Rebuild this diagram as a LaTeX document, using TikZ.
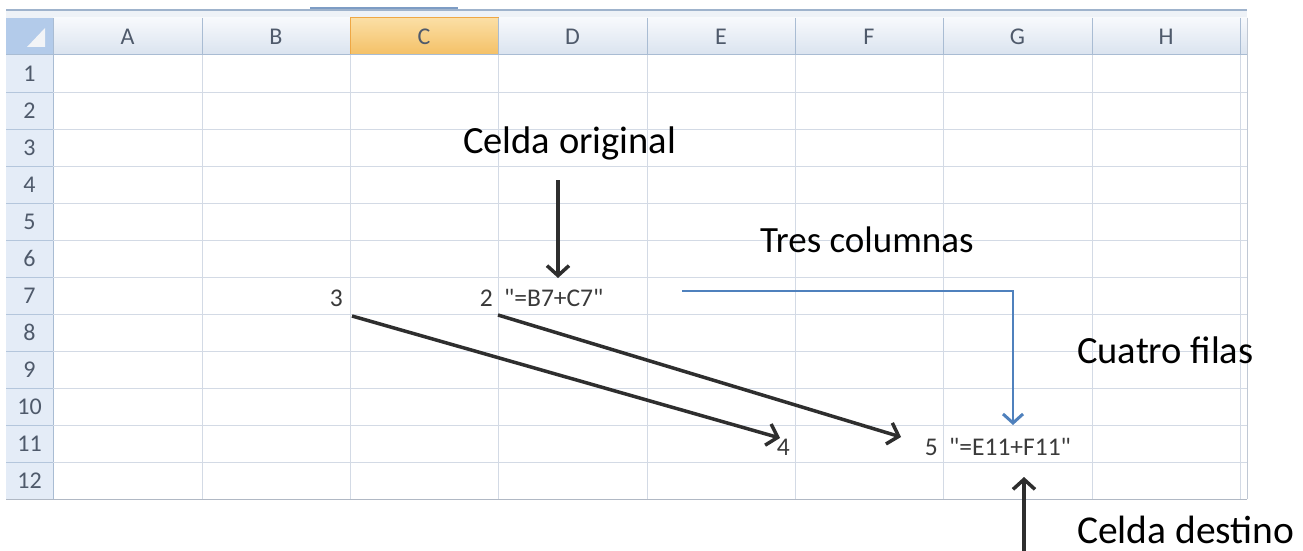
\documentclass[tikz,border=0pt]{standalone}
\usepackage{fontspec}
\setmainfont{Carlito}
\usetikzlibrary{arrows.meta}
\definecolor{gridc}{HTML}{D3DAE5}
\definecolor{hdrtop}{HTML}{F7F9FC}
\definecolor{hdrbot}{HTML}{DAE3EF}
\definecolor{hdrsep}{HTML}{A9BCD3}
\definecolor{rowbg}{HTML}{E4ECF7}
\definecolor{rowsep}{HTML}{B4C6DC}
\definecolor{seltop}{HTML}{FBDFA5}
\definecolor{selbot}{HTML}{F4C066}
\definecolor{selbrd}{HTML}{EFA744}
\definecolor{hdrtxt}{HTML}{4F5A6B}
\definecolor{celltxt}{HTML}{3A3A3A}
\definecolor{blueln}{HTML}{4F81BD}
\definecolor{topbar}{HTML}{9FB3CC}
\definecolor{topbardk}{HTML}{7D9CC4}
\definecolor{stripc}{HTML}{EEF2F7}
\definecolor{cornerc}{HTML}{B3CBEA}
\definecolor{trianglec}{HTML}{F2F4F7}
\definecolor{edgec}{HTML}{C0C8D4}
\definecolor{bottomc}{HTML}{B0B8C4}
\definecolor{arrowc}{HTML}{2E2E2E}
\newcommand{\qd}{\textquotedbl}
\tikzset{
  hdrtext/.style={font=\fontsize{24}{26}\selectfont, text=hdrtxt, inner sep=0pt},
  celltext/.style={font=\fontsize{25.5}{27}\selectfont, text=celltxt, inner sep=0pt},
  lbl/.style={text=black, inner sep=0pt, anchor=base west},
  blkarrow/.style={draw=arrowc, line width=3.5pt, -{Straight Barb[length=10pt,width=22pt]}},
  bluearrow/.style={draw=blueln, line width=1.2pt, -{Straight Barb[length=9pt,width=20pt,line width=3pt]}},
}
\begin{document}
\begin{tikzpicture}[x=1pt,y=-1pt]
\useasboundingbox (0,0) rectangle (1303,551);
\fill[white] (0,0) rectangle (1303,551);
% top bar
\fill[stripc] (6,10) rectangle (1247,18);
\draw[topbar, line width=1.5pt] (6,10) -- (1247,10);
\draw[topbardk, line width=2pt] (310,8.5) -- (458,8.5);
% header row cells
\foreach \a/\b in {53/202,202/350,350/498,498/647,647/795,795/943,943/1092,1092/1240,1240/1247}{
  \shade[top color=hdrtop, bottom color=hdrbot] (\a,18) rectangle (\b,55);
}
\shade[top color=seltop, bottom color=selbot] (350,18) rectangle (498,55);
\draw[selbrd, line width=1pt] (350,18) rectangle (498,55);
\foreach \x in {53,202,498,647,795,943,1092,1240,1247}{
  \draw[hdrsep, line width=1pt] (\x,18) -- (\x,55);
}
\foreach \a/\b/\l in {53/202/A,202/350/B,350/498/C,498/647/D,647/795/E,795/943/F,943/1092/G,1092/1240/H}{
  \node[hdrtext] (h\l) at ({(\a+\b)/2},37) {\l};
}
% corner
\fill[cornerc] (6,18) rectangle (53,55);
\fill[trianglec] (27,47) -- (45,47) -- (45,28) -- cycle;
% row header column
\fill[rowbg] (6,55) rectangle (53,499);
\draw[hdrsep, line width=1pt] (53,18) -- (53,499);
\draw[hdrsep, line width=1pt] (6,55) -- (1247,55);
\foreach \r in {1,...,12}{
  \node[hdrtext] (r\r) at (29.5,{55+37*\r-18.5}) {\r};
}
% grid lines
\foreach \r in {1,...,11}{
  \draw[gridc, line width=1pt] (53,{55+37*\r}) -- (1247,{55+37*\r});
  \draw[rowsep, line width=1pt] (6,{55+37*\r}) -- (53,{55+37*\r});
}
\foreach \x in {202,350,498,647,795,943,1092,1240}{
  \draw[gridc, line width=1pt] (\x,55) -- (\x,499);
}
\draw[edgec, line width=1pt] (1247,18) -- (1247,499);
\draw[bottomc, line width=1pt] (6,499) -- (1247,499);
% cell contents
\node[celltext, anchor=base east] (c3) at (343,306) {3};
\node[celltext, anchor=base east] (c2) at (493,306) {2};
\node[celltext, anchor=base west] (fD7) at (504,306) {\qd=B7+C7\qd};
\node[celltext, anchor=base east] (c4) at (790,455) {4};
\node[celltext, anchor=base east] (c5) at (938,455) {5};
\node[celltext, anchor=base west] (fG11) at (949,455) {\qd=E11+F11\qd};
% labels
\node[lbl, font=\fontsize{38.5}{40}\selectfont] (orig) at (463,153) {Celda original};
\node[lbl, font=\fontsize{37}{40}\selectfont] (tres) at (760,252) {Tres columnas};
\node[lbl, font=\fontsize{38.5}{40}\selectfont] (cuatro) at (1077,363) {Cuatro filas};
\node[lbl, font=\fontsize{39.5}{40}\selectfont] (dest) at (1077,543) {Celda destino};
% arrows
\coordinate (oa) at (558,180);
\coordinate (ob) at (558,278);
\draw[blkarrow] (oa) -- (ob);
\coordinate (s3) at (352,316);
\coordinate (t4) at (780,438);
\draw[blkarrow] (s3) -- (t4);
\coordinate (s2) at (498,315);
\coordinate (t5) at (901,437);
\draw[blkarrow] (s2) -- (t5);
\coordinate (da) at (1024,551);
\coordinate (db) at (1024,477);
\draw[blkarrow] (da) -- (db);
\coordinate (bs) at (682,291);
\coordinate (bc) at (1013,291);
\coordinate (be) at (1013,425);
\draw[bluearrow] (bs) -- (bc) -- (be);
\end{tikzpicture}
\end{document}
